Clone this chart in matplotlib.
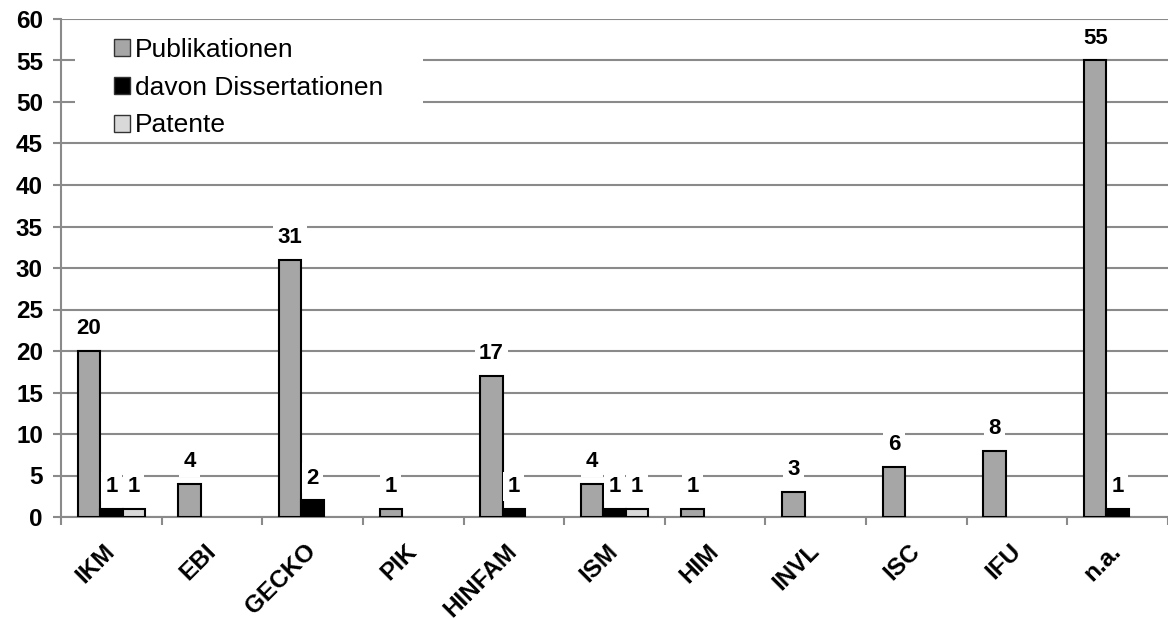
import matplotlib
matplotlib.use("Agg")
import matplotlib.pyplot as plt
from matplotlib.patches import Patch, Rectangle
from matplotlib.ticker import MultipleLocator, FixedLocator
import numpy as np

plt.rcParams['font.family'] = ['Liberation Sans', 'DejaVu Sans']

categories = ["IKM", "EBI", "GECKO", "PIK", "HINFAM", "ISM", "HIM", "INVL", "ISC", "IFU", "n.a."]
publikationen = [20, 4, 31, 1, 17, 4, 1, 3, 6, 8, 55]
dissertationen = [1, 0, 2, 0, 1, 1, 0, 0, 0, 0, 1]
patente = [1, 0, 0, 0, 0, 1, 0, 0, 0, 0, 0]
series_names = ["Publikationen", "davon Dissertationen", "Patente"]
colors = ["#a6a6a6", "#000000", "#d9d9d9"]
grid_color = "#8a8a8a"

fig = plt.figure(figsize=(11.68, 6.2), dpi=100)
ax = fig.add_axes([61/1168, 103/620, 1 - 61/1168, (517-19)/620])

x = np.arange(len(categories))
w = 0.223
series = [publikationen, dissertationen, patente]
offsets = [-w, 0, w]
for vals, off, col in zip(series, offsets, colors):
    vals = np.array(vals)
    nz = vals > 0
    ax.bar(x[nz] + off, vals[nz], width=w, color=col, edgecolor="black", linewidth=1.5, zorder=3)
    for xi, v in zip(x[nz], vals[nz]):
        ax.annotate(str(v), (xi + off, v), xytext=(0, 16), textcoords="offset points",
                    ha="center", va="center", fontsize=16, fontweight="bold",
                    bbox=dict(boxstyle="square,pad=0.2", fc="white", ec="none"),
                    zorder=4)

ax.set_xlim(-0.5, len(categories) - 0.5)
ax.set_ylim(0, 60)
ax.yaxis.set_major_locator(MultipleLocator(5))
ax.yaxis.grid(True, color=grid_color, linewidth=1.5, zorder=0)
ax.set_axisbelow(True)

ax.set_xticks(x)
ax.set_xticklabels(categories, rotation=45, ha="right", va="center", rotation_mode="anchor",
                   fontsize=17.5, fontweight="bold")
ax.xaxis.set_minor_locator(FixedLocator(np.arange(-0.5, len(categories), 1.0)))
ax.tick_params(axis="x", which="major", length=0, pad=22)
ax.tick_params(axis="x", which="minor", length=6, width=1.5, color=grid_color)
ax.tick_params(axis="y", length=6, width=1.5, color=grid_color, pad=7, labelsize=17.5)
for lab in ax.get_yticklabels():
    lab.set_fontweight("bold")

for s in ["top", "right"]:
    ax.spines[s].set_visible(False)
for s in ["left", "bottom"]:
    ax.spines[s].set_color(grid_color)
    ax.spines[s].set_linewidth(1.5)

# white area behind legend
ax.add_patch(Rectangle((75/1168, 1 - 138/620), (423-75)/1168, (138-25)/620,
                       transform=fig.transFigure, facecolor="white", edgecolor="none",
                       zorder=2.5, clip_on=False))

handles = [Patch(facecolor=c, edgecolor="#333333", linewidth=1.0) for c in colors]
leg = ax.legend(handles, series_names, loc="upper left", bbox_to_anchor=(114/1168, 1 - 38/620),
                bbox_transform=fig.transFigure, fontsize=19, frameon=False,
                borderaxespad=0, borderpad=0,
                handlelength=0.6, handleheight=0.6, handletextpad=0.2, labelspacing=0.52)
leg.set_zorder(5)

fig.savefig("out.png", dpi=100)
